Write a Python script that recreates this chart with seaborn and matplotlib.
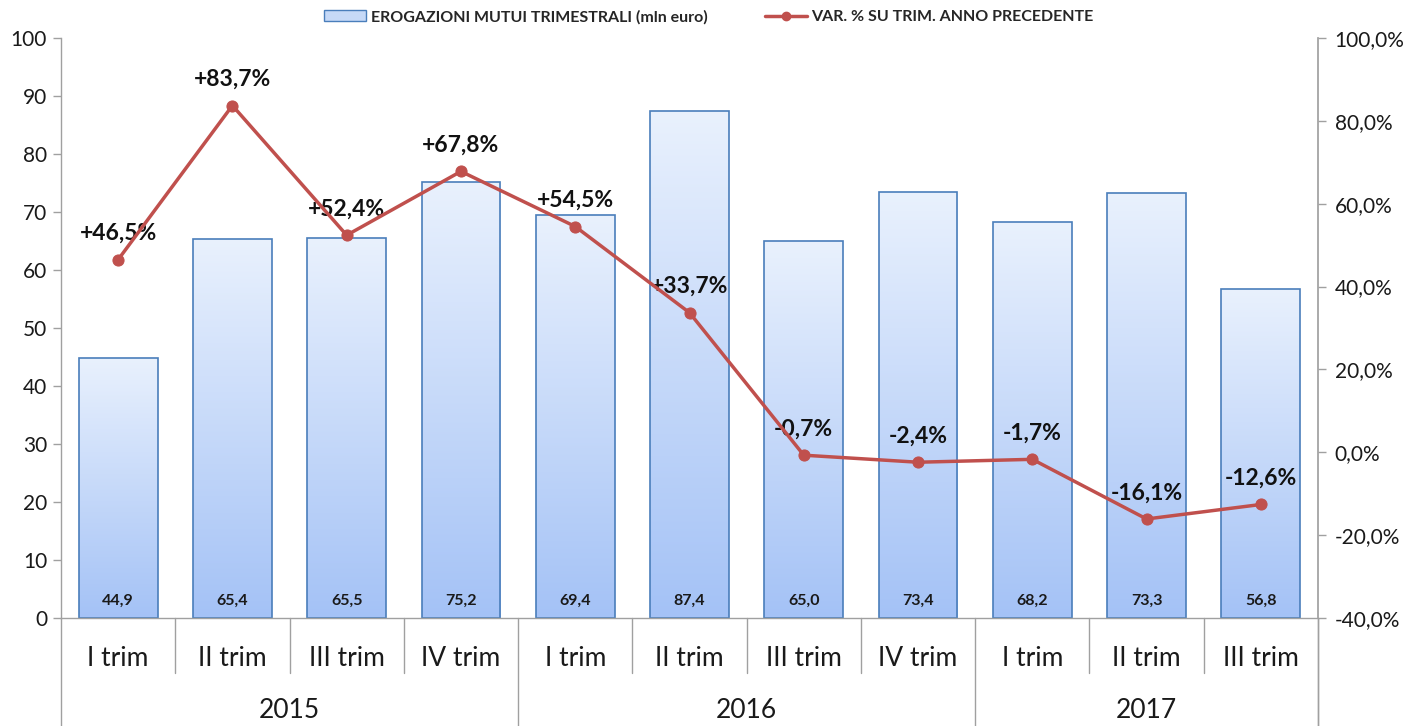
import numpy as np
import pandas as pd
import matplotlib
matplotlib.use("Agg")
import matplotlib.pyplot as plt
import matplotlib.transforms as mtransforms
from matplotlib.patches import Patch
from matplotlib.lines import Line2D
import seaborn as sns

quarters = ["I trim", "II trim", "III trim", "IV trim", "I trim", "II trim", "III trim",
            "IV trim", "I trim", "II trim", "III trim"]
years = ["2015", "2016", "2017"]
year_counts = [4, 4, 3]
erogazioni = [44.9, 65.4, 65.5, 75.2, 69.4, 87.4, 65.0, 73.4, 68.2, 73.3, 56.8]
var_pct = [46.5, 83.7, 52.4, 67.8, 54.5, 33.7, -0.7, -2.4, -1.7, -16.1, -12.6]
left_ticks = [0, 10, 20, 30, 40, 50, 60, 70, 80, 90, 100]
right_ticks = [-40, -20, 0, 20, 40, 60, 80, 100]

sns.set_theme(style="white")
plt.rcParams['font.family'] = ['Lato', 'DejaVu Sans']

keys = [f"{i}" for i in range(len(quarters))]
df = pd.DataFrame({"key": keys, "val": erogazioni})

fig = plt.figure(figsize=(14.22, 7.26), dpi=100)
ax = fig.add_axes([61/1422, 1-618/726, (1318-61)/1422, (618-38)/726])
sns.barplot(data=df, x="key", y="val", order=keys, ax=ax, width=0.69,
            color="#c6d9f7", edgecolor="#4a7ebb", linewidth=1.2, saturation=1)

# gradient fill inside bars
grad = np.linspace(0, 1, 256).reshape(-1, 1)
cmap = matplotlib.colors.LinearSegmentedColormap.from_list("g", ["#a4c2f6", "#e9f1fd"])
for p in ax.patches:
    x0, y0 = p.get_x(), p.get_y()
    w, h = p.get_width(), p.get_height()
    im = ax.imshow(grad, extent=[x0, x0 + w, y0, y0 + h], origin="lower", cmap=cmap,
                   aspect="auto", zorder=1.5)
    im.set_clip_path(p)
    p.set_facecolor("none")
    p.set_zorder(2)

ax.set_xlim(-0.5, len(quarters) - 0.5)
ax.set_ylim(0, 100)
ax.set_yticks(left_ticks)
ax.set_yticklabels([str(t) for t in left_ticks], fontsize=15, color="#1a1a1a")
ax.set_xticks(range(len(quarters)))
ax.set_xticklabels(quarters, fontsize=19, color="#1a1a1a")
ax.tick_params(axis="x", length=0, pad=20)
ax.tick_params(axis="y", length=6, width=1, color="#a0a0a0", direction="out", left=True, pad=4)
ax.set_xlabel("")
ax.set_ylabel("")
for s in ["top", "right"]:
    ax.spines[s].set_visible(False)
for s in ["left", "bottom"]:
    ax.spines[s].set_color("#a0a0a0")
    ax.spines[s].set_linewidth(1)

for i, v in enumerate(erogazioni):
    ax.text(i, 3.0, f"{v:.1f}".replace(".", ","), ha="center", va="center",
            fontsize=11.5, fontweight="bold", color="#1a1a1a", zorder=5)

# category separators
trans = mtransforms.blended_transform_factory(ax.transData, ax.transAxes)
bottom_y = -(726 - 618) / 580
quarter_y = -(673 - 618) / 580
boundaries = np.cumsum(year_counts)
for b in range(0, len(quarters) + 1):
    x = b - 0.5
    y_end = bottom_y if (b == 0 or b in boundaries) else quarter_y
    ax.plot([x, x], [0, y_end], transform=trans, color="#a0a0a0", lw=1, clip_on=False)

start = 0
for yr, c in zip(years, year_counts):
    ax.text(start + c / 2 - 0.5, -(711 - 618) / 580, yr, transform=trans, ha="center",
            va="center", fontsize=19, color="#1a1a1a")
    start += c

ax2 = ax.twinx()
line_color = "#c0504d"
sns.lineplot(x=np.arange(len(var_pct)), y=var_pct, ax=ax2, color=line_color, lw=2.5,
             marker="o", markersize=8, markeredgecolor=line_color, zorder=4)
ax2.set_ylim(-40, 100)
ax2.set_yticks(right_ticks)
ax2.set_yticklabels([f"{t:.1f}%".replace(".", ",") for t in right_ticks], fontsize=15,
                    color="#1a1a1a")
ax2.tick_params(axis="y", length=6, width=1, color="#a0a0a0", direction="out", right=True, pad=6)
for s in ["top", "left", "bottom"]:
    ax2.spines[s].set_visible(False)
ax2.spines["right"].set_color("#a0a0a0")
ax2.spines["right"].set_bounds(-40, 100)
ax2.plot([1, 1], [0, bottom_y], transform=ax2.transAxes, color="#a0a0a0", lw=1, clip_on=False)
ax2.set_ylabel("")

for i, v in enumerate(var_pct):
    s = f"{v:+.1f}%".replace(".", ",")
    ax2.annotate(s, (i, v), xytext=(0, 26), textcoords="offset pixels",
                 ha="center", va="center", fontsize=16.5, fontweight="bold", color="#111111")

handles = [Patch(facecolor="#c6d9f7", edgecolor="#4a7ebb", lw=1),
           Line2D([0], [0], color=line_color, lw=2.5, marker="o", markersize=6)]
labels = ["EROGAZIONI MUTUI TRIMESTRALI (mln euro)", "VAR. % SU TRIM. ANNO PRECEDENTE"]
fig.legend(handles, labels, loc="center", bbox_to_anchor=(709/1422, 1-17/726), ncol=2,
           frameon=False, prop={"weight": "bold", "size": 11.5}, columnspacing=3.6,
           handlelength=2.6, handletextpad=0.3)

fig.savefig("out.png", dpi=100)
